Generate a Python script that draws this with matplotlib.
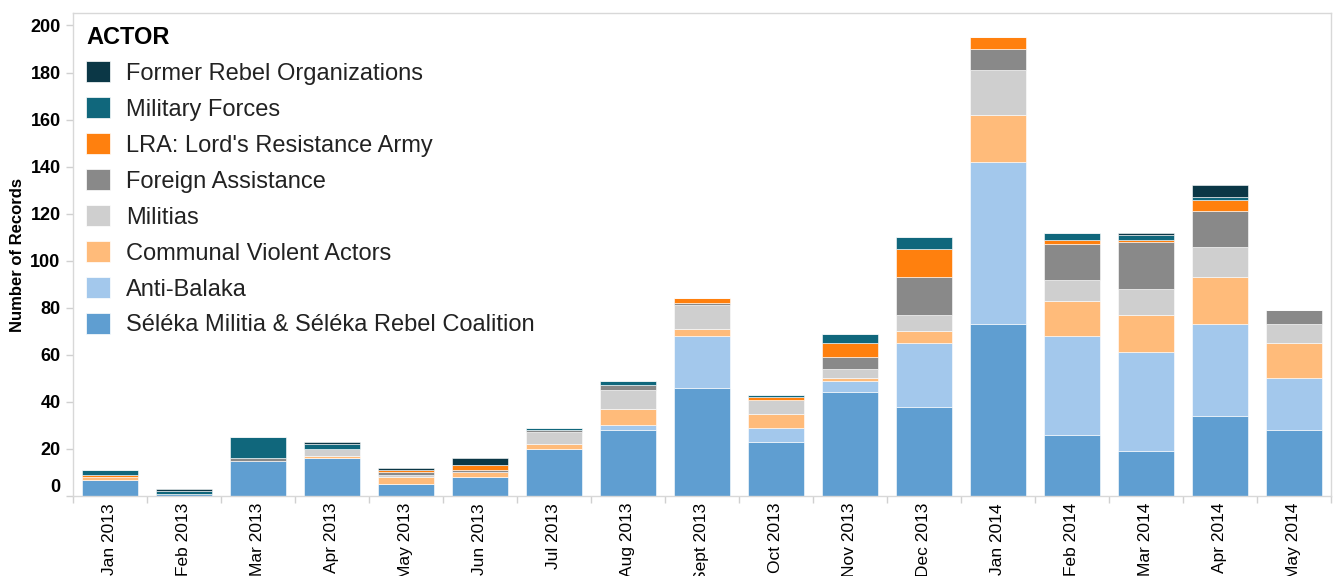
import numpy as np
import matplotlib
matplotlib.use("Agg")
import matplotlib.pyplot as plt
from matplotlib.patches import Patch
from matplotlib.transforms import ScaledTranslation

plt.rcParams['font.family'] = ['Liberation Sans', 'DejaVu Sans']

months = ['Jan 2013', 'Feb 2013', 'Mar 2013', 'Apr 2013', 'May 2013', 'Jun 2013',
          'Jul 2013', 'Aug 2013', 'Sept 2013', 'Oct 2013', 'Nov 2013', 'Dec 2013',
          'Jan 2014', 'Feb 2014', 'Mar 2014', 'Apr 2014', 'May 2014']

# stacked from bottom to top
seleka = [7, 1, 15, 16, 5, 8, 20, 28, 46, 23, 44, 38, 73, 26, 19, 34, 28]
anti_balaka = [0, 0, 0, 0, 0, 0, 0, 2, 22, 6, 5, 27, 69, 42, 42, 39, 22]
communal = [1, 0, 0, 1, 3, 2, 2, 7, 3, 6, 1, 5, 20, 15, 16, 20, 15]
militias = [0, 0, 0, 3, 1, 0, 5, 8, 10, 6, 4, 7, 19, 9, 11, 13, 8]
foreign = [0, 0, 1, 0, 1, 1, 1, 2, 1, 0, 5, 16, 9, 15, 20, 15, 6]
lra = [1, 0, 0, 0, 1, 2, 0, 0, 2, 1, 6, 12, 5, 2, 1, 5, 0]
military = [2, 1, 9, 2, 0, 0, 1, 2, 0, 1, 4, 5, 0, 3, 2, 1, 0]
former_rebel = [0, 1, 0, 1, 1, 3, 0, 0, 0, 0, 0, 0, 0, 0, 1, 5, 0]

series = [
    ('Séléka Militia & Séléka Rebel Coalition', seleka, '#5f9ed1'),
    ('Anti-Balaka', anti_balaka, '#a3c8ec'),
    ('Communal Violent Actors', communal, '#ffbb7a'),
    ('Militias', militias, '#cfcfcf'),
    ('Foreign Assistance', foreign, '#898989'),
    ("LRA: Lord's Resistance Army", lra, '#ff800e'),
    ('Military Forces', military, '#10677c'),
    ('Former Rebel Organizations', former_rebel, '#0b3746'),
]

fig = plt.figure(figsize=(13.34, 5.76), dpi=100)
ax = fig.add_axes([73 / 1334, 80 / 576, 1258 / 1334, 483 / 576])

x = np.arange(len(months))
bottom = np.zeros(len(months))
for name, vals, col in series:
    vals = np.array(vals, dtype=float)
    ax.bar(x, vals, width=0.75, bottom=bottom, color=col,
           edgecolor='white', linewidth=0.4)
    bottom += vals

ax.set_xlim(-0.5, len(months) - 0.5)
ax.set_ylim(0, 205.3)
ax.set_yticks(np.arange(0, 201, 20))
ax.set_xticks(x)
ax.set_xticklabels(months, rotation=90, fontsize=12.5, ha='center', va='top')
ax.set_xticks(np.arange(-0.5, len(months), 1), minor=True)
ax.tick_params(axis='x', which='major', length=0, pad=5)
ax.tick_params(axis='x', which='minor', length=5, color='#d0d0d0', width=1)
ax.tick_params(axis='y', length=5, color='#d0d0d0', width=1, pad=4, labelsize=13)
for lbl in ax.get_yticklabels():
    lbl.set_fontweight('bold')

# zero label sits a bit above its tick
zero = ax.yaxis.get_major_ticks()[0].label1
zero.set_transform(zero.get_transform() + ScaledTranslation(0, 10 / 100, fig.dpi_scale_trans))

for sp in ax.spines.values():
    sp.set_color('#d8d8d8')
    sp.set_linewidth(1)

ax.set_ylabel('Number of Records', fontsize=12, fontweight='bold', labelpad=4)

handles = [Patch(facecolor=col, edgecolor='white', linewidth=0.5) for _, _, col in series][::-1]
labels = [name for name, _, _ in series][::-1]
leg = ax.legend(handles, labels, loc='upper left', bbox_to_anchor=(86 / 1334, 1 - 26 / 576),
                bbox_transform=fig.transFigure, frameon=False, fontsize=17,
                title='ACTOR', alignment='left', handlelength=1.0, handleheight=1.0,
                handletextpad=0.7, labelspacing=0.52, borderpad=0, borderaxespad=0)
leg.get_title().set_fontsize(17)
leg.get_title().set_fontweight('bold')
for t in leg.get_texts():
    t.set_color('#222222')

fig.savefig('out.png', dpi=100)
plt.close(fig)
